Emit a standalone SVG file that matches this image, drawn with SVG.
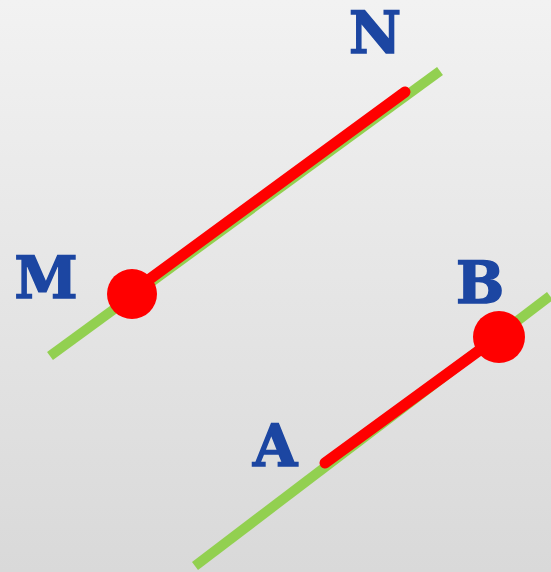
<svg xmlns="http://www.w3.org/2000/svg" width="551" height="572" viewBox="0 0 551 572">
<defs>
<linearGradient id="bg" x1="0" y1="0" x2="0" y2="1">
<stop offset="0" stop-color="#f2f2f2"/>
<stop offset="1" stop-color="#d9d9d9"/>
</linearGradient>
<style>
.g{stroke:#92d050;stroke-width:10;fill:none}
.r{stroke:#ff0000;stroke-width:11;stroke-linecap:round;fill:none}
.d{fill:#ff0000}
.t{font-family:"DejaVu Serif","Liberation Serif",serif;font-weight:bold;font-size:57px;fill:#1c46a2;stroke:#1c46a2;stroke-width:1.6;text-anchor:middle}
</style>
</defs>
<rect width="551" height="572" fill="url(#bg)"/>
<g id="connectors">
<line class="g" x1="50" y1="356" x2="440" y2="71"/>
<line class="r" x1="132" y1="292" x2="405" y2="92"/>
<line class="g" x1="195" y1="566" x2="550" y2="296"/>
<line class="r" x1="325" y1="463" x2="499" y2="336"/>
</g>
<g id="M"><circle class="d" cx="132" cy="294" r="25"/><text class="t" x="46" y="298">M</text></g>
<g id="N"><text class="t" x="375" y="53">N</text></g>
<g id="B"><circle class="d" cx="499" cy="337" r="26"/><text class="t" x="480" y="303">B</text></g>
<g id="A"><text class="t" x="275" y="466">A</text></g>
</svg>
